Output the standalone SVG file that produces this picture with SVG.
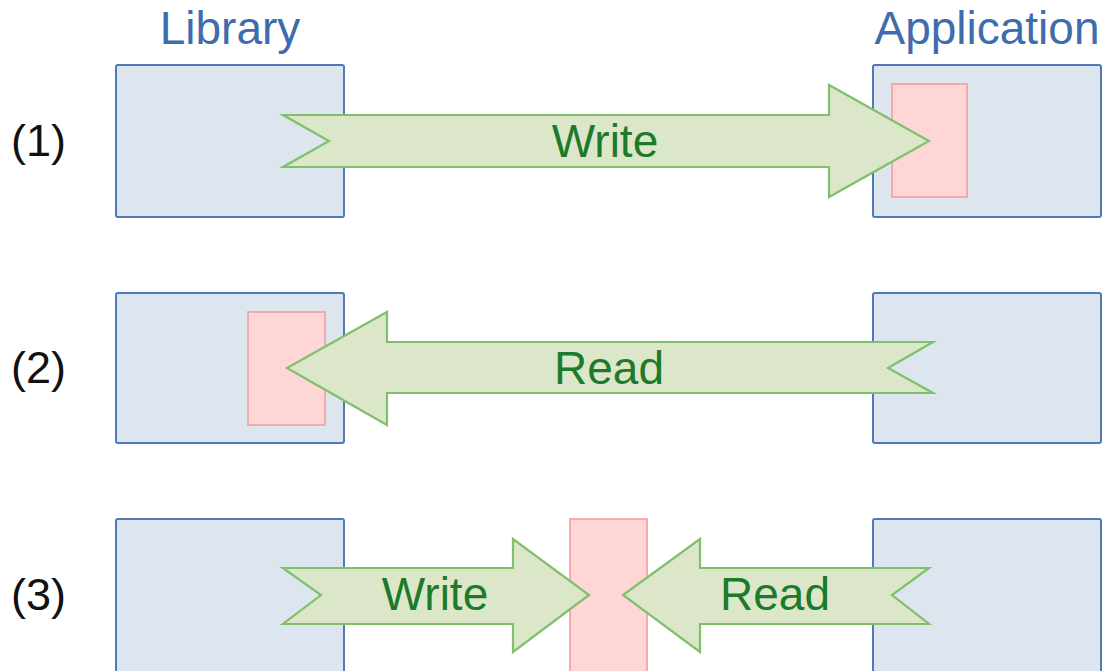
<svg xmlns="http://www.w3.org/2000/svg" width="1112" height="671" viewBox="0 0 1112 671">
  <style>
    .box { fill: #dde5ef; stroke: #4f7ab6; stroke-width: 2; }
    .buf { fill: #ffd6d6; stroke: #f7a3a3; stroke-width: 1.8; }
    .arrow { fill: #dce7ca; stroke: #80c06c; stroke-width: 2.2; stroke-linejoin: miter; }
    .title { font-family: "Liberation Sans", Arial, sans-serif; font-size: 46px; fill: #3f6cac; text-anchor: middle; }
    .step { font-family: "Liberation Sans", Arial, sans-serif; font-size: 45px; fill: #111111; }
    .label { font-family: "Liberation Sans", Arial, sans-serif; font-size: 46px; fill: #1c7a2a; text-anchor: middle; }
  </style>
  <rect width="1112" height="671" fill="#ffffff"/>

  <!-- column headings -->
  <text class="title" x="230" y="44">Library</text>
  <text class="title" x="987" y="44">Application</text>

  <!-- step numbers -->
  <text class="step" x="11" y="156">(1)</text>
  <text class="step" x="11" y="383">(2)</text>
  <text class="step" x="11" y="610">(3)</text>

  <!-- step 1 -->
  <g id="lib1"><rect class="box" x="116" y="65" width="228" height="152" rx="2"/></g>
  <g id="app1"><rect class="box" x="873" y="65" width="228" height="152" rx="2"/></g>
  <g id="buf1"><rect class="buf" x="892" y="84" width="75" height="113"/></g>

  <!-- step 2 -->
  <g id="lib2"><rect class="box" x="116" y="293" width="228" height="150" rx="2"/></g>
  <g id="app2"><rect class="box" x="873" y="293" width="228" height="150" rx="2"/></g>
  <g id="buf2"><rect class="buf" x="248" y="312" width="77" height="113"/></g>

  <!-- step 3 -->
  <g id="lib3"><rect class="box" x="116" y="519" width="228" height="170" rx="2"/></g>
  <g id="app3"><rect class="box" x="873" y="519" width="228" height="170" rx="2"/></g>
  <g id="buf3"><rect class="buf" x="570" y="519" width="77" height="170"/></g>

  <!-- block arrows -->
  <g id="connectors">
    <g id="write1">
      <polygon class="arrow" points="283,115 829,115 829,85 929,141 829,197 829,167 283,167 329,141"/>
      <text class="label" x="605" y="157">Write</text>
    </g>
    <g id="read2">
      <polygon class="arrow" points="933,342 387,342 387,312 287,368 387,425 387,393 933,393 888,368"/>
      <text class="label" x="609" y="384">Read</text>
    </g>
    <g id="write3">
      <polygon class="arrow" points="283,568 513,568 513,539 589,595 513,652 513,624 283,624 321,595"/>
      <text class="label" x="435" y="610">Write</text>
    </g>
    <g id="read3">
      <polygon class="arrow" points="929,568 700,568 700,539 623,595 700,652 700,624 929,624 892,595"/>
      <text class="label" x="775" y="610">Read</text>
    </g>
  </g>
</svg>
